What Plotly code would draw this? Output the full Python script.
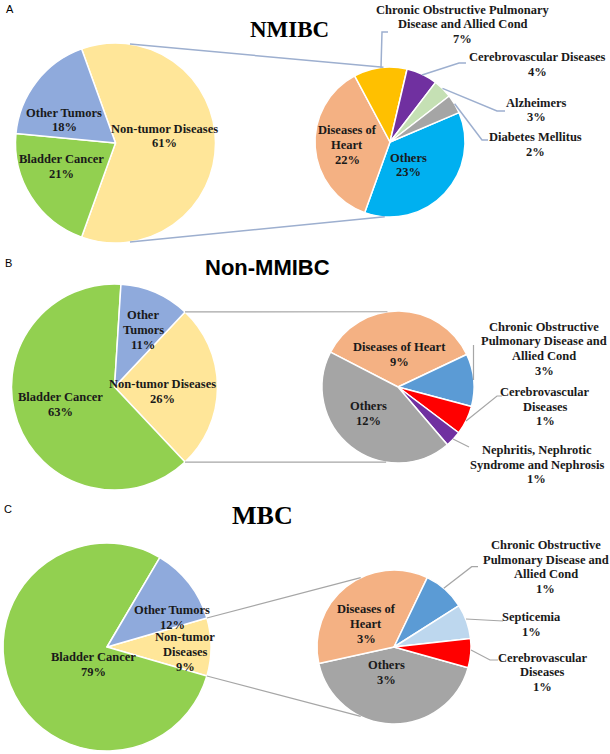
import math
import plotly.graph_objects as go

# ---------------- data ----------------
group_labels = ["Non-tumor Diseases", "Bladder Cancer", "Other Tumors"]
group_label_text_a = ["Non-tumor Diseases", "Bladder Cancer", "Other Tumors"]
group_label_text_b = ["Non-tumor Diseases", "Bladder Cancer", "Other<br>Tumors"]
group_label_text_c = ["Non-tumor<br>Diseases", "Bladder Cancer", "Other Tumors"]
nmibc_groups = [61, 21, 18]
nonmmibc_groups = [26, 63, 11]
mbc_groups = [9, 79, 12]

nmibc_detail_labels = ["Others", "Diseases of<br>Heart",
                       "Chronic Obstructive Pulmonary<br>Disease and Allied Cond",
                       "Cerebrovascular Diseases", "Alzheimers", "Diabetes Mellitus"]
nmibc_detail_values = [22.5, 22.4, 7.0, 4.1, 2.5, 2.5]
nmibc_detail_pct = [23, 22, 7, 4, 3, 2]

nonmmibc_detail_labels = ["Diseases of Heart",
                          "Chronic Obstructive<br>Pulmonary Disease and<br>Allied Cond",
                          "Cerebrovascular<br>Diseases",
                          "Nephritis, Nephrotic<br>Syndrome and Nephrosis", "Others"]
nonmmibc_detail_values = [9.2, 2.9, 1.6, 0.9, 11.4]
nonmmibc_detail_pct = [9, 3, 1, 1, 12]

mbc_detail_labels = ["Others", "Diseases of<br>Heart",
                     "Chronic Obstructive<br>Pulmonary Disease and<br>Allied Cond",
                     "Septicemia", "Cerebrovascular<br>Diseases"]
mbc_detail_values = [3.8, 3.2, 0.8, 0.65, 0.55]
mbc_detail_pct = [3, 3, 1, 1, 1]

panel_titles = ["NMIBC", "Non-MMIBC", "MBC"]
panel_letters = ["A", "B", "C"]

# ---------------- styling / layout ----------------
W, H = 610, 754
SERIF = "Liberation Serif, Times New Roman, serif"
SANS = "Liberation Sans, Arial, sans-serif"
LABEL_SIZE = 12.5
LINE_STEP = 14.6

group_colors = ["#FFE699", "#92D050", "#8FAADC"]
nmibc_detail_colors = ["#00B0F0", "#F4B183", "#FFC000", "#7030A0", "#C5E0B4", "#A5A5A5"]
nonmmibc_detail_colors = ["#F4B183", "#5B9BD5", "#FF0000", "#7030A0", "#A5A5A5"]
mbc_detail_colors = ["#A5A5A5", "#F4B183", "#5B9BD5", "#BDD7EE", "#FF0000"]


def px(x):
    return x / W


def py(y):
    return 1 - y / H


def pt(c, r, ang):
    a = math.radians(ang)
    return (c[0] + r * math.cos(a), c[1] - r * math.sin(a))


panels = [
    dict(groups=nmibc_groups, gtext=group_label_text_a,
         dl=nmibc_detail_labels, dv=nmibc_detail_values, dp=nmibc_detail_pct,
         dc=nmibc_detail_colors,
         lc=(115.5, 143), lr=100, rc=(390, 142), rr=75, rrot=66.9,
         conn_left=81.7, conn_right=(95, -94), line_color="#9DAFCF", line_w=1.5,
         gpos=[(164, 136), (61, 166.5), (64, 120)],
         dpos=[(408, 165), (347, 145), (462.5, 24.5), (537.5, 64.5), (536.7, 110), (535, 144.5)],
         leaders=[[(381, 68), (382, 32), (388, 32)],
                  [(422, 75), (459, 63), (466, 63)],
                  [(442.5, 88.4), (497, 111), (505, 111)],
                  [(454.6, 103.8), (482, 140), (488, 140)]],
         title_pos=(289, 30), title_font=SERIF, title_size=23,
         letter_pos=(9.5, 9)),
    dict(groups=nonmmibc_groups, gtext=group_label_text_b,
         dl=nonmmibc_detail_labels, dv=nonmmibc_detail_values, dp=nonmmibc_detail_pct,
         dc=nonmmibc_detail_colors,
         lc=(114.5, 387), lr=103, rc=(398, 387), rr=76, rrot=-62.7,
         conn_left=None, conn_right=(98, -99), line_color="#A6A6A6", line_w=1.2,
         gpos=[(162.5, 391.7), (60, 404.5), (143, 330)],
         dpos=[(400, 354.5), (544, 348.7), (545, 406.7), (536.7, 464.7), (368.3, 413.5)],
         leaders=[[(473.5, 380), (473.5, 345)],
                  [(466, 421), (497, 396), (502, 396)],
                  [(453, 439), (469, 447)]],
         title_pos=(267, 267), title_font=SANS, title_size=22,
         letter_pos=(8.5, 263)),
    dict(groups=mbc_groups, gtext=group_label_text_c,
         dl=mbc_detail_labels, dv=mbc_detail_values, dp=mbc_detail_pct,
         dc=mbc_detail_colors,
         lc=(107, 647), lr=104, rc=(394, 647), rr=77, rrot=105.6,
         conn_left=None, conn_right=(115.6, -115.6), line_color="#A6A6A6", line_w=1.2,
         gpos=[(185, 652), (93.3, 664.5), (172, 617.7)],
         dpos=[(386.7, 672.3), (366, 624), (545.5, 567), (531.7, 624.7), (542.5, 672.3)],
         leaders=[[(443.8, 588.2), (471.7, 566.7), (478, 566.7)],
                  [(466, 619), (503, 621)],
                  [(471, 650), (490, 660), (498, 660)]],
         title_pos=(262.5, 515), title_font=SERIF, title_size=26,
         letter_pos=(8, 509)),
]

fig = go.Figure()
shapes = []
annotations = []


def domain(c, r):
    return dict(x=[px(c[0] - r), px(c[0] + r)], y=[py(c[1] + r), py(c[1] - r)])


def add_label(text, x, y):
    lines = text.split("<br>")
    n = len(lines)
    for k, line in enumerate(lines):
        yy = y + (k - (n - 1) / 2) * LINE_STEP
        annotations.append(dict(x=px(x), y=py(yy), xref="paper", yref="paper",
                                text=f"<b>{line}</b>", showarrow=False,
                                xanchor="center", yanchor="middle", align="center",
                                font=dict(family=SERIF, size=LABEL_SIZE, color="#1a1a1a")))


for i, p in enumerate(panels):
    total = sum(p["groups"])
    share = p["groups"][0] / total
    lrot = 90 - 180 * share
    fig.add_trace(go.Pie(
        labels=group_labels, values=p["groups"], sort=False, direction="clockwise",
        rotation=lrot, marker=dict(colors=group_colors, line=dict(color="white", width=1.5)),
        textinfo="none", domain=domain(p["lc"], p["lr"]), showlegend=False,
        hoverinfo="label+value"))
    fig.add_trace(go.Pie(
        labels=[s.replace("<br>", " ") for s in p["dl"]], values=p["dv"], sort=False,
        direction="clockwise", rotation=p["rrot"],
        marker=dict(colors=p["dc"], line=dict(color="white", width=1.5)),
        textinfo="none", domain=domain(p["rc"], p["rr"]), showlegend=False,
        hoverinfo="label"))

    # connector lines between pies
    half = 180 * share
    la = p["conn_left"] if p["conn_left"] is not None else half
    for sgn, ra in zip((1, -1), p["conn_right"]):
        x0, y0 = pt(p["lc"], p["lr"], sgn * la)
        x1, y1 = pt(p["rc"], p["rr"], ra)
        shapes.append(dict(type="line", xref="paper", yref="paper",
                           x0=px(x0), y0=py(y0), x1=px(x1), y1=py(y1),
                           line=dict(color=p["line_color"], width=p["line_w"])))
    # leader lines
    for pts in p["leaders"]:
        path = "M " + " L ".join(f"{px(x):.5f},{py(y):.5f}" for x, y in pts)
        shapes.append(dict(type="path", xref="paper", yref="paper", path=path,
                           line=dict(color=p["line_color"], width=p["line_w"])))

    for txt, v, (x, y) in zip(p["gtext"], p["groups"], p["gpos"]):
        add_label(f"{txt}<br>{v}%", x, y)
    for txt, v, (x, y) in zip(p["dl"], p["dp"], p["dpos"]):
        add_label(f"{txt}<br>{v}%", x, y)

    tx, ty = p["title_pos"]
    annotations.append(dict(x=px(tx), y=py(ty), xref="paper", yref="paper",
                            text=f"<b>{panel_titles[i]}</b>", showarrow=False,
                            xanchor="center", yanchor="middle",
                            font=dict(family=p["title_font"], size=p["title_size"], color="black")))
    lx, ly = p["letter_pos"]
    annotations.append(dict(x=px(lx), y=py(ly), xref="paper", yref="paper",
                            text=panel_letters[i], showarrow=False,
                            xanchor="center", yanchor="middle",
                            font=dict(family=SANS, size=11, color="black")))

fig.update_layout(width=W, height=H, margin=dict(l=0, r=0, t=0, b=0),
                  paper_bgcolor="white", plot_bgcolor="white",
                  shapes=shapes, annotations=annotations, showlegend=False)
fig.write_html("out.html", config={"displayModeBar": False},
               post_script="document.body.style.margin='0';document.body.style.padding='0';"
                           "document.body.style.overflow='hidden';")
